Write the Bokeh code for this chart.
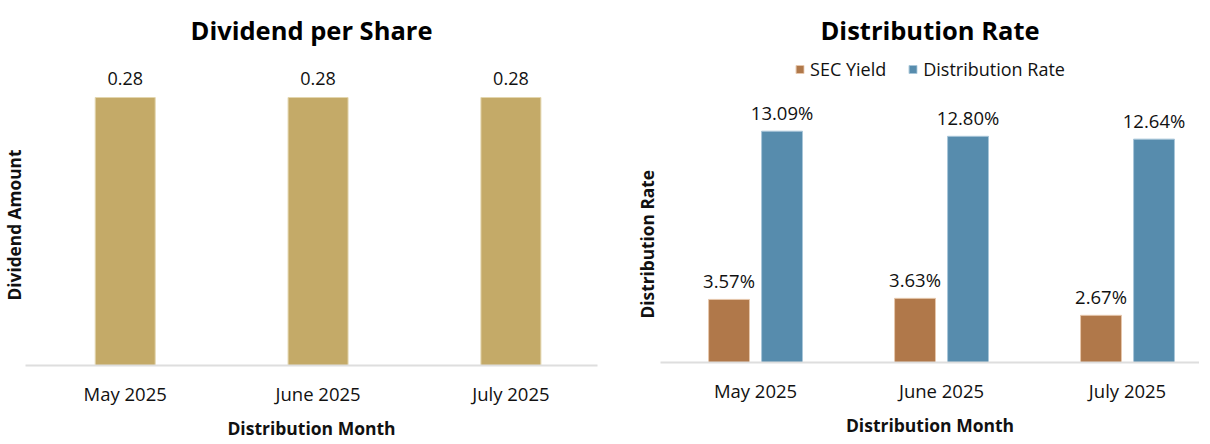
from bokeh.plotting import figure
from bokeh.models import ColumnDataSource, Range1d, FixedTicker, Legend, LegendItem, Title
from bokeh.transform import dodge
from bokeh.layouts import row
from bokeh.embed import file_html
from bokeh.resources import INLINE

months = ["May 2025", "June 2025", "July 2025"]
dividend = [0.28, 0.28, 0.28]
sec_yield = [3.57, 3.63, 2.67]
dist_rate = [13.09, 12.80, 12.64]

FONT = "Open Sans"
GOLD = "#C4AA68"
BROWN = "#B0784A"
BLUE = "#578CAD"
TXT = "#111111"

xs = list(range(len(months)))
overrides = {i: m for i, m in enumerate(months)}

src1 = ColumnDataSource(dict(x=xs, y=dividend, lab=["%.2f" % v for v in dividend]))
src2 = ColumnDataSource(dict(
    x=xs, sec=sec_yield, dr=dist_rate,
    sec_lab=["%.2f%%" % v for v in sec_yield],
    dr_lab=["%.2f%%" % v for v in dist_rate],
))


def style(p, ylabel, yoff, ystand):
    p.title.text_font = FONT
    p.title.text_font_size = "25.5px"
    p.title.text_font_style = "bold"
    p.title.align = "center"
    p.title.text_color = "#000000"
    p.title.text_line_height = 0.7
    p.title.standoff = 21
    p.xgrid.visible = False
    p.ygrid.visible = False
    p.outline_line_color = None
    p.background_fill_color = "white"
    p.border_fill_color = "white"
    xa = p.xaxis[0]
    xa.ticker = FixedTicker(ticks=xs)
    xa.major_label_overrides = overrides
    xa.major_label_text_font = FONT
    xa.major_label_text_font_size = "18.5px"
    xa.major_label_text_color = TXT
    xa.major_label_standoff = 9
    xa.major_tick_line_color = None
    xa.minor_tick_line_color = None
    xa.axis_line_color = "#DEDEDE"
    xa.axis_line_width = 2
    xa.axis_label = "Distribution Month"
    xa.axis_label_text_font = FONT
    xa.axis_label_text_font_size = "17.5px"
    xa.axis_label_text_font_style = "bold"
    xa.axis_label_text_color = TXT
    xa.axis_label_standoff = 7
    p.yaxis.visible = False
    yt = Title(text=ylabel, align="left", offset=yoff, standoff=ystand,
               text_font=FONT, text_font_size="17.3px", text_font_style="bold",
               text_color=TXT)
    p.add_layout(yt, "left")


p1 = figure(title="Dividend per Share", frame_width=572, frame_height=308,
            min_border_left=20, min_border_right=30, min_border_top=42, min_border_bottom=71,
            x_range=Range1d(-0.517, 2.449), y_range=Range1d(0, 0.3218),
            output_backend="svg", toolbar_location=None)
style(p1, "Dividend Amount", 65, 0)
p1.vbar(x="x", top="y", width=0.311, source=src1, fill_color=GOLD, line_color="#E3D6AE", line_width=1)
p1.text(x="x", y="y", text="lab", source=src1, text_align="center", text_baseline="middle",
        y_offset=-19, text_font_size="18px", text_color=TXT, text_font={"value": FONT})

p2 = figure(title="Distribution Rate", frame_width=539, frame_height=305,
            min_border_left=33, min_border_right=0, min_border_top=42, min_border_bottom=74,
            x_range=Range1d(-0.511, 2.387), y_range=Range1d(0, 17.26),
            output_backend="svg", toolbar_location=None)
style(p2, "Distribution Rate", 44, 4)
r_sec = p2.vbar(x=dodge("x", -0.1425), top="sec", width=0.22, source=src2,
                fill_color=BROWN, line_color="#E6C7AC", line_width=1)
r_dr = p2.vbar(x=dodge("x", 0.1425), top="dr", width=0.22, source=src2,
               fill_color=BLUE, line_color="#A8C6D9", line_width=1)
p2.text(x=dodge("x", -0.1425), y="sec", text="sec_lab", source=src2, text_align="center",
        text_baseline="middle", y_offset=-19, text_font_size="18.5px", text_color=TXT,
        text_font={"value": FONT})
p2.text(x=dodge("x", 0.1425), y="dr", text="dr_lab", source=src2, text_align="center",
        text_baseline="middle", y_offset=-19, text_font_size="18.5px", text_color=TXT,
        text_font={"value": FONT})
leg = Legend(items=[LegendItem(label="SEC Yield", renderers=[r_sec]),
                    LegendItem(label="Distribution Rate", renderers=[r_dr])],
             location="top_center", orientation="horizontal")
leg.label_text_font = FONT
leg.label_text_font_size = "18px"
leg.label_text_color = TXT
leg.glyph_width = 10
leg.glyph_height = 10
leg.spacing = 21
leg.label_standoff = 6
leg.border_line_color = None
leg.background_fill_alpha = 0
leg.padding = 0
leg.margin = 0
p2.add_layout(leg)

layout = row(p1, p2, spacing=0)
open("out.html", "w").write(file_html(layout, INLINE))
